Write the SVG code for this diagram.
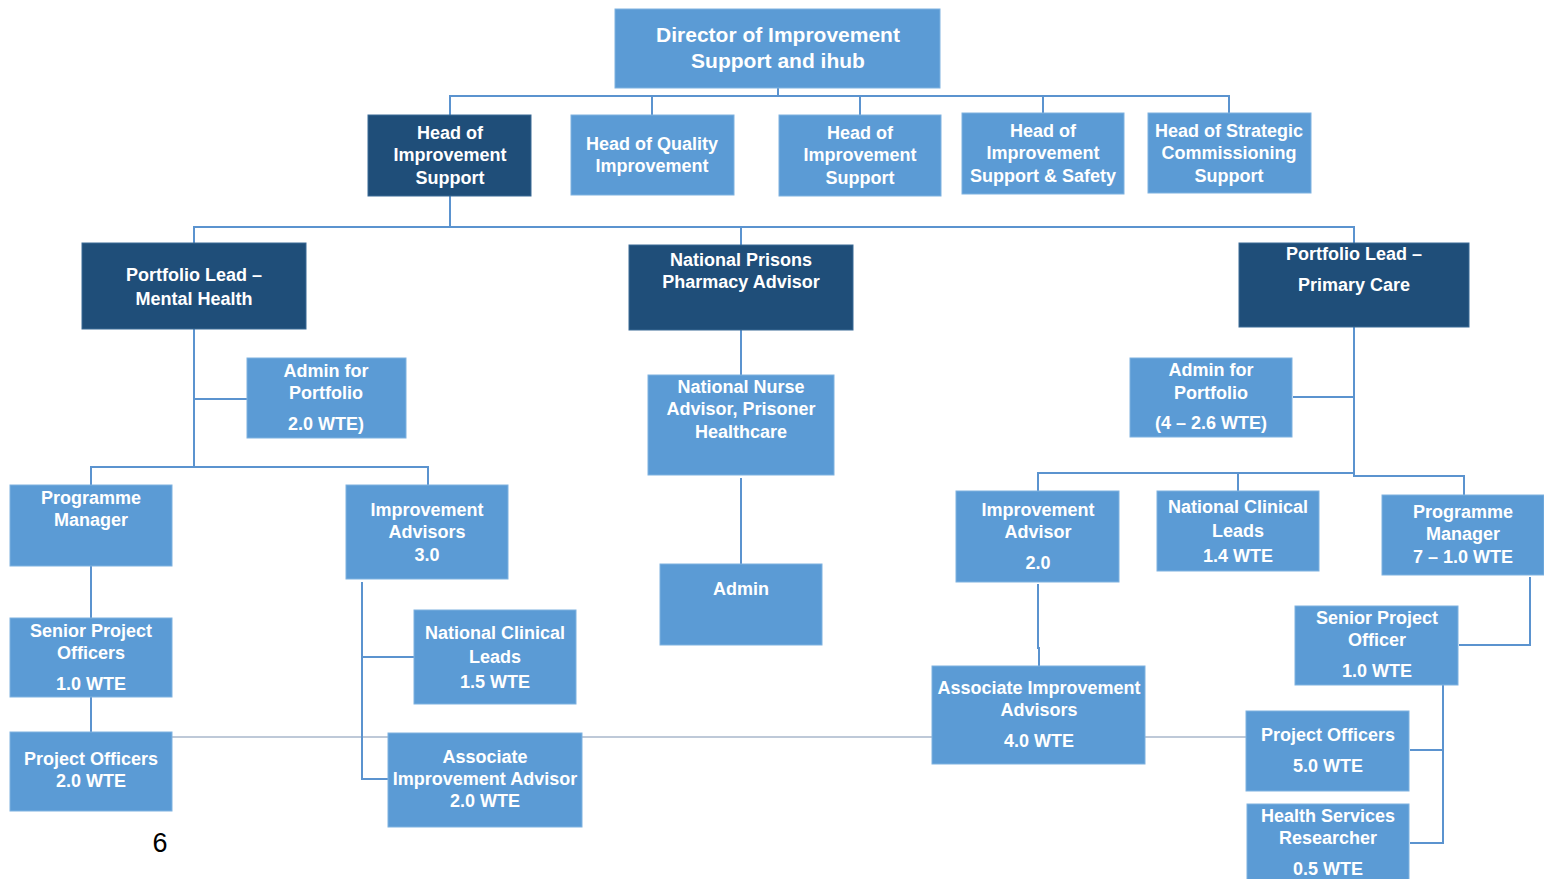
<svg xmlns="http://www.w3.org/2000/svg" width="1544" height="879" viewBox="0 0 1544 879">
<style>
.l{fill:#5B9BD5;stroke:#7FB2E0;stroke-width:1}
.d{fill:#1F4E79;stroke:#3A6A96;stroke-width:1}
text{font-family:"Liberation Sans",Arial,sans-serif;font-weight:bold;font-size:18px;fill:#fff;text-anchor:middle}
.c{fill:none;stroke:#5B93CF;stroke-width:2}
.g{fill:none;stroke:#A8B7CB;stroke-width:1.5}
</style>
<rect width="1544" height="879" fill="#fff"/>
<g id="connectors">
<path class="g" d="M172 737H1246"/>
<path class="c" d="M778 88V96M450 115V96H1229V113M652 96V115M860 96V115M1043 96V113"/>
<path class="c" d="M450 196V227M194 243V227H1354V243M741 227V245"/>
<path class="c" d="M194 329V467M194 399H247M91 485V467H428V485"/>
<path class="c" d="M91 566V618M91 697V732"/>
<path class="c" d="M362 582V779H388M362 657H414"/>
<path class="c" d="M741 330V375M741 478V564"/>
<path class="c" d="M1354 327V473H1038V491M1293 397H1354M1238 473V491M1354 473V476H1464V495"/>
<path class="c" d="M1038 584V648H1039V666"/>
<path class="c" d="M1530 577V645H1459"/>
<path class="c" d="M1443 685V843H1410M1410 750H1443"/>
</g>
<g id="director"><rect class="l" x="615" y="9" width="325" height="79"/><text style="font-size:21px"><tspan x="778" y="42">Director of Improvement</tspan><tspan x="778" y="68">Support and ihub</tspan></text></g>
<g id="head-is-1"><rect class="d" x="368" y="115" width="163" height="81"/><text><tspan x="450" y="139">Head of</tspan><tspan x="450" y="161">Improvement</tspan><tspan x="450" y="184">Support</tspan></text></g>
<g id="head-qi"><rect class="l" x="571" y="115" width="163" height="80"/><text><tspan x="652" y="150">Head of Quality</tspan><tspan x="652" y="172">Improvement</tspan></text></g>
<g id="head-is-2"><rect class="l" x="779" y="115" width="162" height="81"/><text><tspan x="860" y="139">Head of</tspan><tspan x="860" y="161">Improvement</tspan><tspan x="860" y="184">Support</tspan></text></g>
<g id="head-iss"><rect class="l" x="962" y="113" width="162" height="81"/><text><tspan x="1043" y="137">Head of</tspan><tspan x="1043" y="159">Improvement</tspan><tspan x="1043" y="182">Support &amp; Safety</tspan></text></g>
<g id="head-scs"><rect class="l" x="1148" y="113" width="163" height="80"/><text><tspan x="1229" y="137">Head of Strategic</tspan><tspan x="1229" y="159">Commissioning</tspan><tspan x="1229" y="182">Support</tspan></text></g>
<g id="pl-mh"><rect class="d" x="82" y="243" width="224" height="86"/><text><tspan x="194" y="281">Portfolio Lead –</tspan><tspan x="194" y="305">Mental Health</tspan></text></g>
<g id="nppa"><rect class="d" x="629" y="245" width="224" height="85"/><text><tspan x="741" y="266">National Prisons</tspan><tspan x="741" y="288">Pharmacy Advisor</tspan></text></g>
<g id="pl-pc"><rect class="d" x="1239" y="243" width="230" height="84"/><text><tspan x="1354" y="260">Portfolio Lead –</tspan><tspan x="1354" y="291">Primary Care</tspan></text></g>
<g id="admin-mh"><rect class="l" x="247" y="358" width="159" height="80"/><text><tspan x="326" y="377">Admin for</tspan><tspan x="326" y="399">Portfolio</tspan><tspan x="326" y="430">2.0 WTE)</tspan></text></g>
<g id="pm-mh"><rect class="l" x="10" y="485" width="162" height="81"/><text><tspan x="91" y="504">Programme</tspan><tspan x="91" y="526">Manager</tspan></text></g>
<g id="ia-mh"><rect class="l" x="346" y="485" width="162" height="94"/><text><tspan x="427" y="516">Improvement</tspan><tspan x="427" y="538">Advisors</tspan><tspan x="427" y="561">3.0</tspan></text></g>
<g id="spo-mh"><rect class="l" x="10" y="618" width="162" height="79"/><text><tspan x="91" y="637">Senior Project</tspan><tspan x="91" y="659">Officers</tspan><tspan x="91" y="690">1.0 WTE</tspan></text></g>
<g id="po-mh"><rect class="l" x="10" y="732" width="162" height="79"/><text><tspan x="91" y="765">Project Officers</tspan><tspan x="91" y="787">2.0 WTE</tspan></text></g>
<g id="ncl-mh"><rect class="l" x="414" y="610" width="162" height="94"/><text><tspan x="495" y="639">National Clinical</tspan><tspan x="495" y="663">Leads</tspan><tspan x="495" y="688">1.5 WTE</tspan></text></g>
<g id="aia-mh"><rect class="l" x="388" y="733" width="194" height="94"/><text><tspan x="485" y="763">Associate</tspan><tspan x="485" y="785">Improvement Advisor</tspan><tspan x="485" y="807">2.0 WTE</tspan></text></g>
<g id="nna"><rect class="l" x="648" y="375" width="186" height="100"/><text><tspan x="741" y="393">National Nurse</tspan><tspan x="741" y="415">Advisor, Prisoner</tspan><tspan x="741" y="438">Healthcare</tspan></text></g>
<g id="admin-np"><rect class="l" x="660" y="564" width="162" height="81"/><text><tspan x="741" y="595">Admin</tspan></text></g>
<g id="admin-pc"><rect class="l" x="1130" y="358" width="162" height="79"/><text><tspan x="1211" y="376">Admin for</tspan><tspan x="1211" y="399">Portfolio</tspan><tspan x="1211" y="429">(4 – 2.6 WTE)</tspan></text></g>
<g id="ia-pc"><rect class="l" x="956" y="491" width="163" height="91"/><text><tspan x="1038" y="516">Improvement</tspan><tspan x="1038" y="538">Advisor</tspan><tspan x="1038" y="569">2.0</tspan></text></g>
<g id="ncl-pc"><rect class="l" x="1157" y="491" width="162" height="80"/><text><tspan x="1238" y="513">National Clinical</tspan><tspan x="1238" y="537">Leads</tspan><tspan x="1238" y="562">1.4 WTE</tspan></text></g>
<g id="pm-pc"><rect class="l" x="1382" y="495" width="162" height="80"/><text><tspan x="1463" y="518">Programme</tspan><tspan x="1463" y="540">Manager</tspan><tspan x="1463" y="563">7 – 1.0 WTE</tspan></text></g>
<g id="aia-pc"><rect class="l" x="932" y="666" width="213" height="98"/><text><tspan x="1039" y="694">Associate Improvement</tspan><tspan x="1039" y="716">Advisors</tspan><tspan x="1039" y="747">4.0 WTE</tspan></text></g>
<g id="spo-pc"><rect class="l" x="1295" y="606" width="163" height="79"/><text><tspan x="1377" y="624">Senior Project</tspan><tspan x="1377" y="646">Officer</tspan><tspan x="1377" y="677">1.0 WTE</tspan></text></g>
<g id="po-pc"><rect class="l" x="1246" y="711" width="163" height="80"/><text><tspan x="1328" y="741">Project Officers</tspan><tspan x="1328" y="772">5.0 WTE</tspan></text></g>
<g id="hsr-pc"><rect class="l" x="1247" y="804" width="162" height="80"/><text><tspan x="1328" y="822">Health Services</tspan><tspan x="1328" y="844">Researcher</tspan><tspan x="1328" y="875">0.5 WTE</tspan></text></g>
<text x="160" y="852" style="font-weight:normal;font-size:27px;fill:#000">6</text>
</svg>
